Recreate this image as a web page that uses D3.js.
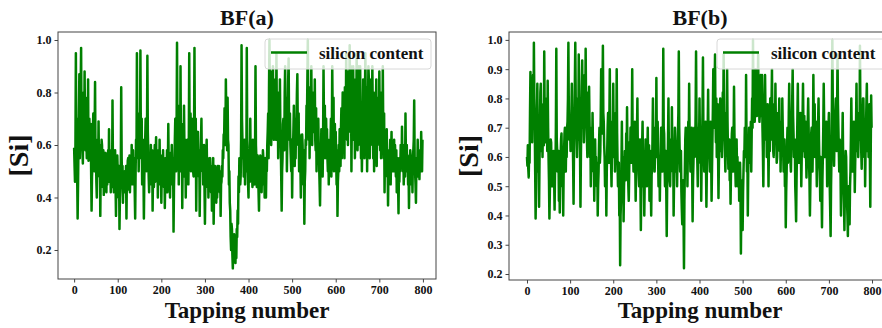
<!DOCTYPE html>
<html>
<head>
<meta charset="utf-8">
<script src="https://cdn.jsdelivr.net/npm/d3@7"></script>
<style>
  body { margin: 0; background: #fff; }
  svg { display: block; }
  svg text { font-family: 'Liberation Serif', 'Times New Roman', serif; font-weight: bold; fill: #111; }
  .tick text { font-size: 12px; }
</style>
</head>
<body>
<svg id="chart" width="882" height="328"></svg>
<script>
// silicon content per tapping (0 .. 799)
const tapStep = 1;
const siA = [
  0.59,0.52,0.46,0.60,0.95,0.55,0.70,0.48,0.32,0.45,0.60,0.72,0.87,0.55,0.66,0.82,0.97,0.62,0.75,0.58,0.53,0.72,0.80,0.60,0.88,0.66,0.58,0.75,0.62,0.55,0.78,0.60,0.85,0.54,0.60,0.70,0.55,0.64,0.68,0.50,
  0.35,0.48,0.52,0.66,0.72,0.52,0.50,0.64,0.84,0.55,0.58,0.46,0.40,0.55,0.62,0.50,0.69,0.52,0.48,0.60,0.33,0.50,0.55,0.62,0.60,0.48,0.44,0.58,0.41,0.50,0.55,0.44,0.57,0.48,0.42,0.55,0.45,0.52,0.58,0.46,
  0.66,0.50,0.48,0.56,0.42,0.58,0.56,0.44,0.77,0.52,0.50,0.42,0.45,0.55,0.58,0.45,0.33,0.50,0.47,0.56,0.50,0.45,0.40,0.52,0.28,0.40,0.44,0.50,0.82,0.55,0.46,0.52,0.38,0.50,0.48,0.42,0.50,0.44,0.43,0.52,
  0.32,0.48,0.47,0.54,0.55,0.43,0.44,0.56,0.42,0.50,0.52,0.45,0.60,0.50,0.47,0.58,0.45,0.52,0.55,0.42,0.32,0.50,0.62,0.55,0.95,0.62,0.58,0.72,0.50,0.60,0.70,0.55,0.96,0.64,0.55,0.70,0.45,0.56,0.62,0.50,
  0.32,0.48,0.55,0.62,0.70,0.52,0.50,0.60,0.94,0.65,0.58,0.48,0.42,0.56,0.56,0.45,0.60,0.52,0.47,0.58,0.35,0.50,0.52,0.44,0.55,0.60,0.46,0.56,0.63,0.48,0.50,0.58,0.40,0.52,0.55,0.45,0.62,0.50,0.45,0.56,
  0.38,0.50,0.52,0.45,0.58,0.48,0.44,0.55,0.36,0.47,0.55,0.42,0.50,0.58,0.42,0.52,0.68,0.50,0.48,0.56,0.40,0.52,0.57,0.45,0.60,0.50,0.45,0.55,0.27,0.44,0.52,0.62,0.70,0.55,0.50,0.66,0.99,0.62,0.60,0.75,
  0.45,0.66,0.62,0.50,0.90,0.58,0.55,0.68,0.36,0.55,0.60,0.48,0.75,0.58,0.50,0.62,0.40,0.55,0.58,0.46,0.62,0.52,0.45,0.60,0.95,0.58,0.60,0.72,0.50,0.64,0.70,0.55,0.60,0.50,0.48,0.62,0.97,0.60,0.58,0.70,
  0.35,0.52,0.55,0.62,0.65,0.50,0.48,0.58,0.33,0.50,0.55,0.62,0.70,0.52,0.50,0.60,0.45,0.55,0.60,0.44,0.30,0.45,0.48,0.56,0.62,0.50,0.44,0.55,0.40,0.50,0.53,0.45,0.55,0.48,0.42,0.52,0.35,0.46,0.48,0.55,
  0.30,0.42,0.45,0.52,0.50,0.40,0.38,0.48,0.40,0.52,0.50,0.44,0.52,0.46,0.42,0.50,0.33,0.45,0.46,0.52,0.48,0.58,0.55,0.64,0.62,0.74,0.70,0.60,0.85,0.70,0.68,0.58,0.78,0.62,0.60,0.45,0.50,0.38,0.35,0.25,
  0.20,0.30,0.28,0.18,0.13,0.22,0.20,0.26,0.23,0.17,0.15,0.24,0.17,0.28,0.25,0.35,0.30,0.48,0.42,0.55,0.55,0.45,0.48,0.62,0.98,0.70,0.62,0.55,0.60,0.48,0.50,0.62,0.45,0.55,0.60,0.50,0.97,0.62,0.58,0.45,
  0.40,0.58,0.55,0.46,0.70,0.52,0.48,0.60,0.50,0.44,0.62,0.50,0.60,0.48,0.45,0.58,0.90,0.60,0.55,0.44,0.45,0.56,0.52,0.42,0.35,0.50,0.48,0.56,0.55,0.44,0.42,0.52,0.45,0.58,0.55,0.46,0.50,0.40,0.44,0.55,
  0.40,0.52,0.50,0.60,0.65,0.72,0.55,0.82,1.00,0.78,0.70,0.88,0.60,0.75,0.80,0.65,0.90,0.70,0.62,0.85,0.65,0.78,0.75,0.62,0.95,0.70,0.65,0.80,0.55,0.68,0.72,0.60,0.85,0.66,0.60,0.48,0.35,0.50,0.55,0.68,
  0.70,0.62,0.58,0.80,0.90,0.68,0.65,0.78,0.50,0.62,0.72,0.85,0.93,0.66,0.62,0.72,0.60,0.55,0.50,0.62,0.40,0.55,0.58,0.66,0.75,0.58,0.52,0.64,0.55,0.70,0.68,0.80,0.87,0.66,0.60,0.72,0.50,0.64,0.62,0.52,
  0.40,0.55,0.55,0.64,0.60,0.50,0.45,0.58,0.30,0.46,0.50,0.62,0.60,0.75,0.70,0.85,1.00,0.75,0.62,0.82,0.55,0.70,0.78,0.62,0.90,0.72,0.60,0.80,0.65,0.75,0.80,0.66,0.85,0.62,0.58,0.74,0.50,0.68,0.66,0.55,
  0.70,0.58,0.52,0.45,0.37,0.50,0.55,0.66,0.60,0.52,0.48,0.62,0.90,0.70,0.62,0.75,0.55,0.66,0.70,0.58,0.66,0.55,0.50,0.62,0.45,0.56,0.58,0.50,0.60,0.70,0.48,0.62,0.90,0.72,0.60,0.78,0.50,0.66,0.68,0.58,
  0.65,0.55,0.45,0.58,0.33,0.46,0.50,0.60,0.50,0.66,0.62,0.52,0.66,0.74,0.55,0.68,0.80,0.62,0.60,0.75,0.55,0.82,0.72,0.64,0.95,0.70,0.62,0.88,0.60,0.78,0.85,0.70,0.98,0.75,0.65,0.90,0.50,0.70,0.78,0.62,
  0.90,0.70,0.62,0.85,0.55,0.72,0.80,0.65,0.95,0.72,0.58,0.80,0.60,0.90,0.82,0.66,0.90,0.72,0.55,0.68,0.50,0.62,0.68,0.85,0.70,0.60,0.55,0.78,0.95,0.70,0.62,0.82,0.50,0.66,0.75,0.90,0.85,0.68,0.55,0.72,
  0.60,0.85,0.78,0.66,0.90,0.72,0.55,0.80,0.50,0.70,0.68,0.58,0.70,0.85,0.52,0.66,0.60,0.78,0.75,0.62,0.88,0.70,0.58,0.80,0.55,0.66,0.72,0.62,0.90,0.66,0.55,0.72,0.42,0.58,0.60,0.50,0.60,0.66,0.48,0.55,
  0.37,0.52,0.58,0.48,0.55,0.62,0.45,0.56,0.65,0.50,0.52,0.60,0.50,0.56,0.62,0.50,0.60,0.54,0.48,0.58,0.42,0.50,0.55,0.46,0.34,0.50,0.46,0.55,0.50,0.60,0.58,0.52,0.67,0.55,0.50,0.60,0.45,0.52,0.60,0.48,
  0.72,0.55,0.52,0.60,0.50,0.56,0.45,0.52,0.36,0.48,0.50,0.58,0.55,0.48,0.45,0.52,0.42,0.55,0.58,0.62,0.77,0.55,0.50,0.45,0.38,0.52,0.55,0.48,0.62,0.52,0.50,0.58,0.47,0.55,0.58,0.50,0.65,0.55,0.50,0.62
];
const siB = [
  0.60,0.57,0.64,0.56,0.53,0.62,0.58,0.75,0.89,0.66,0.70,0.85,0.65,0.78,0.88,0.70,0.99,0.80,0.72,0.55,0.39,0.50,0.62,0.74,0.85,0.66,0.55,0.68,0.43,0.58,0.70,0.82,0.85,0.70,0.62,0.75,0.60,0.72,0.78,0.64,
  0.96,0.75,0.66,0.72,0.65,0.78,0.80,0.62,0.86,0.70,0.60,0.52,0.39,0.48,0.58,0.66,0.65,0.55,0.50,0.62,0.50,0.58,0.62,0.52,0.42,0.55,0.55,0.70,0.97,0.66,0.62,0.55,0.55,0.62,0.45,0.56,0.41,0.52,0.60,0.66,
  0.68,0.58,0.50,0.62,0.40,0.55,0.62,0.68,0.70,0.60,0.55,0.66,0.60,0.70,0.72,0.80,0.99,0.76,0.66,0.72,0.70,0.62,0.64,0.75,0.85,0.70,0.68,0.58,0.44,0.62,0.72,0.85,0.99,0.80,0.75,0.68,0.60,0.72,0.80,0.66,
  0.95,0.78,0.68,0.62,0.43,0.60,0.72,0.84,0.93,0.76,0.70,0.82,0.65,0.74,0.88,0.72,0.97,0.78,0.72,0.66,0.60,0.75,0.82,0.68,0.84,0.72,0.60,0.66,0.50,0.62,0.70,0.58,0.75,0.64,0.55,0.60,0.45,0.56,0.66,0.54,
  0.60,0.52,0.50,0.58,0.40,0.50,0.55,0.64,0.70,0.58,0.62,0.74,0.90,0.70,0.68,0.80,0.98,0.75,0.72,0.64,0.60,0.50,0.52,0.60,0.40,0.55,0.62,0.70,0.75,0.62,0.58,0.72,0.90,0.68,0.66,0.58,0.50,0.62,0.72,0.60,
  0.85,0.66,0.60,0.72,0.55,0.64,0.75,0.62,0.90,0.68,0.58,0.50,0.50,0.58,0.40,0.48,0.23,0.40,0.45,0.56,0.72,0.55,0.48,0.60,0.38,0.50,0.55,0.62,0.60,0.52,0.68,0.58,0.77,0.62,0.58,0.50,0.45,0.55,0.65,0.58,
  0.70,0.60,0.58,0.70,0.90,0.66,0.62,0.55,0.55,0.68,0.72,0.58,0.45,0.55,0.60,0.68,0.80,0.62,0.62,0.54,0.50,0.62,0.66,0.52,0.35,0.48,0.55,0.64,0.72,0.58,0.50,0.62,0.40,0.52,0.58,0.66,0.65,0.55,0.50,0.60,
  0.70,0.58,0.56,0.64,0.45,0.55,0.62,0.50,0.40,0.54,0.55,0.66,0.80,0.64,0.62,0.70,0.55,0.62,0.70,0.60,0.87,0.66,0.60,0.72,0.60,0.50,0.52,0.60,0.45,0.56,0.62,0.70,0.70,0.58,0.55,0.66,0.97,0.70,0.68,0.58,
  0.50,0.60,0.62,0.48,0.33,0.50,0.55,0.66,0.80,0.62,0.60,0.52,0.50,0.62,0.66,0.56,0.77,0.60,0.55,0.64,0.40,0.52,0.62,0.70,0.65,0.56,0.55,0.62,0.50,0.60,0.68,0.75,0.96,0.70,0.62,0.55,0.55,0.62,0.48,0.42,
  0.37,0.45,0.52,0.40,0.22,0.45,0.55,0.66,0.70,0.58,0.62,0.70,0.50,0.62,0.72,0.64,0.85,0.68,0.62,0.55,0.60,0.66,0.70,0.55,0.38,0.52,0.58,0.68,0.70,0.60,0.62,0.75,0.96,0.72,0.66,0.58,0.50,0.62,0.70,0.64,
  0.80,0.66,0.58,0.70,0.45,0.58,0.66,0.75,0.94,0.70,0.62,0.55,0.60,0.68,0.72,0.58,0.43,0.55,0.60,0.70,0.83,0.64,0.62,0.72,0.55,0.64,0.72,0.60,0.45,0.56,0.66,0.76,0.90,0.72,0.70,0.82,0.95,0.74,0.65,0.80,
  0.60,0.70,0.78,0.62,0.46,0.58,0.66,0.74,0.80,0.66,0.62,0.75,0.60,0.70,0.82,0.72,0.95,0.76,0.68,0.62,0.55,0.66,0.75,0.64,0.90,0.72,0.62,0.56,0.60,0.66,0.52,0.58,0.44,0.55,0.62,0.68,0.70,0.60,0.55,0.64,
  0.84,0.68,0.60,0.56,0.50,0.60,0.66,0.56,0.60,0.50,0.52,0.58,0.45,0.55,0.58,0.50,0.27,0.45,0.42,0.52,0.35,0.48,0.55,0.62,0.60,0.70,0.68,0.60,0.88,0.66,0.55,0.62,0.40,0.55,0.62,0.70,0.70,0.62,0.58,0.72,
  0.55,0.68,0.80,0.70,1.00,0.82,0.78,0.86,0.72,0.80,0.90,0.76,0.85,0.74,0.75,0.82,0.95,0.78,0.80,0.72,0.75,0.84,0.88,0.74,0.80,0.88,0.70,0.62,0.50,0.66,0.72,0.80,0.88,0.74,0.66,0.78,0.60,0.72,0.78,0.66,
  0.50,0.64,0.72,0.62,0.80,0.70,0.66,0.78,0.90,0.72,0.70,0.62,0.60,0.70,0.78,0.66,0.85,0.72,0.66,0.58,0.60,0.70,0.75,0.64,0.72,0.80,0.62,0.70,0.55,0.66,0.72,0.62,0.80,0.70,0.62,0.55,0.60,0.66,0.50,0.58,
  0.36,0.48,0.55,0.64,0.70,0.58,0.62,0.75,0.85,0.70,0.66,0.58,0.55,0.64,0.72,0.80,0.90,0.74,0.68,0.60,0.60,0.66,0.50,0.45,0.38,0.52,0.62,0.74,0.85,0.68,0.58,0.66,0.65,0.58,0.75,0.64,0.50,0.60,0.66,0.74,
  0.85,0.70,0.62,0.74,0.60,0.68,0.72,0.62,0.53,0.60,0.66,0.72,0.80,0.70,0.58,0.52,0.40,0.50,0.60,0.68,0.70,0.62,0.55,0.66,0.88,0.72,0.66,0.78,0.60,0.70,0.72,0.62,0.50,0.58,0.64,0.72,0.80,0.66,0.58,0.55,
  0.45,0.60,0.55,0.48,0.36,0.52,0.60,0.70,0.85,0.72,0.66,0.60,0.60,0.70,0.72,0.64,0.50,0.58,0.62,0.70,0.75,0.62,0.50,0.42,0.33,0.50,0.60,0.78,1.00,0.80,0.72,0.64,0.57,0.66,0.68,0.74,0.80,0.70,0.62,0.75,
  0.95,0.78,0.70,0.62,0.55,0.66,0.65,0.55,0.40,0.52,0.55,0.64,0.75,0.60,0.50,0.44,0.35,0.48,0.55,0.62,0.60,0.50,0.45,0.40,0.33,0.45,0.50,0.42,0.37,0.50,0.55,0.66,0.80,0.68,0.62,0.55,0.60,0.70,0.72,0.64,
  0.48,0.58,0.65,0.72,0.85,0.68,0.62,0.74,0.60,0.70,0.75,0.66,0.98,0.76,0.70,0.62,0.56,0.66,0.72,0.80,0.80,0.68,0.60,0.72,0.50,0.62,0.70,0.78,0.85,0.70,0.62,0.74,0.60,0.72,0.78,0.60,0.43,0.62,0.81,0.70
];
const xTicks = [0, 100, 200, 300, 400, 500, 600, 700, 800];
const yTicksA = [0.2, 0.4, 0.6, 0.8, 1.0];
const yTicksB = [0.2, 0.3, 0.4, 0.5, 0.6, 0.7, 0.8, 0.9, 1.0];
const seriesName = 'silicon content';

const svg = d3.select('#chart');

const panels = [
  { title: 'BF(a)', values: siA, yTicks: yTicksA,
    left: 58, right: 436, top: 32, bottom: 279,
    xDomain: [-37, 830], yDomain: [0.0895, 1.0305],
    ylabelX: 28, legendX: 265, legendW: 166 },
  { title: 'BF(b)', values: siB, yTicks: yTicksB,
    left: 509, right: 891, top: 32, bottom: 280,
    xDomain: [-41.7, 844], yDomain: [0.1795, 1.027],
    ylabelX: 478, legendX: 717, legendW: 172 }
];

panels.forEach((p) => {
  const x = d3.scaleLinear().domain(p.xDomain).range([p.left, p.right]);
  const y = d3.scaleLinear().domain(p.yDomain).range([p.bottom, p.top]);
  const g = svg.append('g');

  const clipId = 'clip-' + p.title.replace(/\W/g, '');
  g.append('clipPath').attr('id', clipId)
    .append('rect')
    .attr('x', p.left).attr('y', p.top)
    .attr('width', p.right - p.left).attr('height', p.bottom - p.top);

  const line = d3.line()
    .x((d, i) => x(i * tapStep))
    .y((d) => y(d));

  g.append('path')
    .datum(p.values)
    .attr('clip-path', 'url(#' + clipId + ')')
    .attr('d', line)
    .attr('fill', 'none')
    .attr('stroke', '#008000')
    .attr('stroke-width', 2.5)
    .attr('stroke-linejoin', 'round');

  // axes frame
  g.append('rect')
    .attr('x', p.left).attr('y', p.top)
    .attr('width', p.right - p.left).attr('height', p.bottom - p.top)
    .attr('fill', 'none')
    .attr('stroke', '#444')
    .attr('stroke-width', 1);

  const xAxis = g.append('g')
    .attr('transform', 'translate(0,' + p.bottom + ')')
    .call(d3.axisBottom(x).tickValues(xTicks).tickSize(3.5).tickPadding(3).tickFormat(d3.format('d')));
  const yAxis = g.append('g')
    .attr('transform', 'translate(' + p.left + ',0)')
    .call(d3.axisLeft(y).tickValues(p.yTicks).tickSize(3.5).tickPadding(3).tickFormat(d3.format('.1f')));
  [xAxis, yAxis].forEach((a) => {
    a.select('.domain').remove();
    a.selectAll('.tick line').attr('stroke', '#444');
    a.attr('font-family', null).attr('font-size', null);
  });

  const cx = (p.left + p.right) / 2;
  g.append('text')
    .attr('x', cx)
    .attr('y', 25)
    .attr('text-anchor', 'middle')
    .style('font-size', '22px')
    .text(p.title);

  g.append('text')
    .attr('x', cx)
    .attr('y', 318)
    .attr('text-anchor', 'middle')
    .style('font-size', '23px')
    .text('Tapping number');

  g.append('text')
    .attr('transform', 'translate(' + p.ylabelX + ',' + (p.top + p.bottom) / 2 + ') rotate(-90)')
    .attr('text-anchor', 'middle')
    .style('font-size', '28px')
    .text('[Si]');

  // legend
  const lg = g.append('g');
  lg.append('rect')
    .attr('x', p.legendX).attr('y', 39)
    .attr('width', p.legendW).attr('height', 30)
    .attr('rx', 3)
    .attr('fill', 'white').attr('fill-opacity', 0.8)
    .attr('stroke', '#d8d8d8');
  lg.append('line')
    .attr('x1', p.legendX + 6).attr('x2', p.legendX + 42)
    .attr('y1', 52.5).attr('y2', 52.5)
    .attr('stroke', '#008000').attr('stroke-width', 2.5);
  lg.append('text')
    .attr('x', p.legendX + 54)
    .attr('y', 59)
    .style('font-size', '17px')
    .text(seriesName);
});
</script>
</body>
</html>
